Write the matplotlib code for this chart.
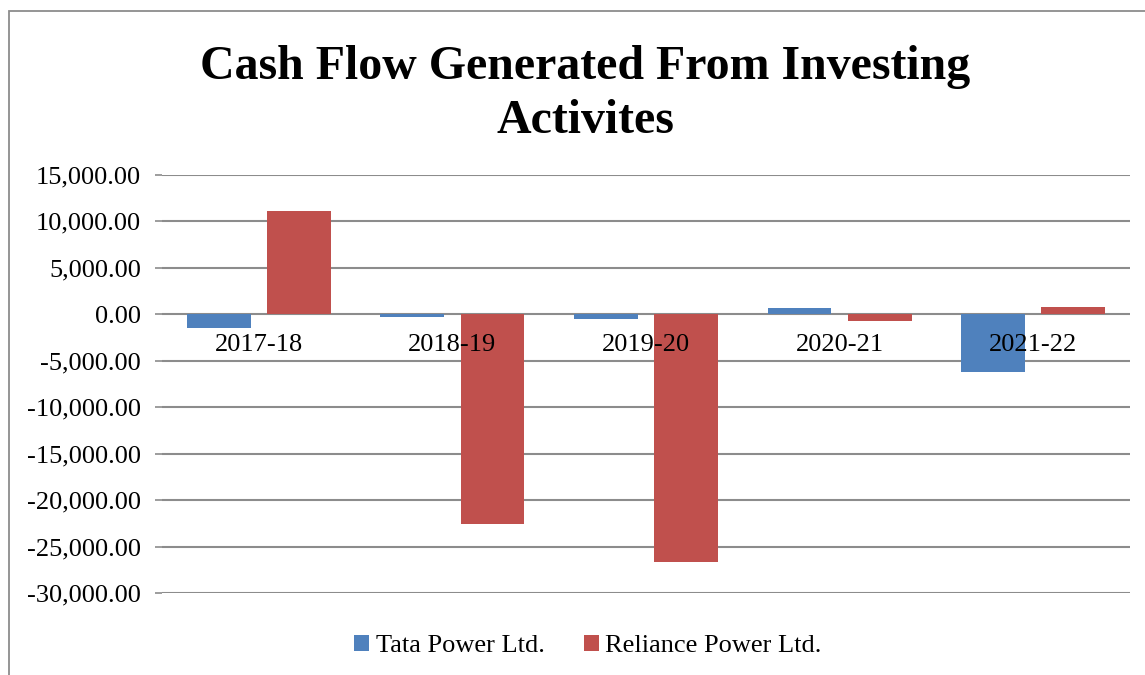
import numpy as np
import matplotlib.pyplot as plt
from matplotlib.patches import Rectangle

# Datos
years = ['2017-18', '2018-19', '2019-20', '2020-21', '2021-22']
tata = [-1500, -300, -500, 700, -6200]
reliance = [11100, -22600, -26700, -700, 800]
yticks = [15000, 10000, 5000, 0, -5000, -10000, -15000, -20000, -25000, -30000]

plt.rcParams['font.family'] = ['Liberation Serif', 'DejaVu Serif']

fig = plt.figure(figsize=(11.45, 6.75), dpi=100)
# marco del grafico (recortado a la derecha y abajo)
fig.patches.append(Rectangle((9 / 1145, -0.1), 1.2, 1.1 - 11 / 675, transform=fig.transFigure,
                             fill=False, edgecolor='#8c8c8c', linewidth=1.3))

ax = fig.add_axes([162 / 1145, 1 - 593 / 675, 968 / 1145, 418 / 675])

x = np.arange(len(years))
w = 0.33
off = 0.207
ax.bar(x - off, tata, w, color='#4F81BD', label='Tata Power Ltd.', zorder=3)
ax.bar(x + off, reliance, w, color='#C0504D', label='Reliance Power Ltd.', zorder=3)

for t in yticks:
    ax.axhline(t, color='#8c8c8c', lw=1.5, zorder=2)

ax.set_xlim(-0.5, len(years) - 0.5)
ax.set_ylim(-30000, 15000)
ax.set_yticks(yticks)
ax.set_yticklabels([f'{v:,.2f}' for v in yticks], fontsize=19)
ax.tick_params(axis='y', length=5, width=1.2, color='#8c8c8c', pad=10)
for s in ax.spines.values():
    s.set_visible(False)

# etiquetas de categoria sobre la linea de cero
ax.set_xticks([])
for i, yr in enumerate(years):
    ax.text(i, -3300, yr, ha='center', va='center', fontsize=19, zorder=4)

fig.text(585 / 1145, 1 - 94 / 675, 'Cash Flow Generated From Investing\nActivites',
         ha='center', va='center', fontsize=34.5, fontweight='bold', linespacing=1.32)

fig.legend(loc='center', bbox_to_anchor=(588 / 1145, 1 - 646 / 675), ncol=2, frameon=False,
           fontsize=19, handlelength=0.55, handleheight=0.55, handletextpad=0.25, columnspacing=1.5)

fig.savefig('out.png', dpi=100)
